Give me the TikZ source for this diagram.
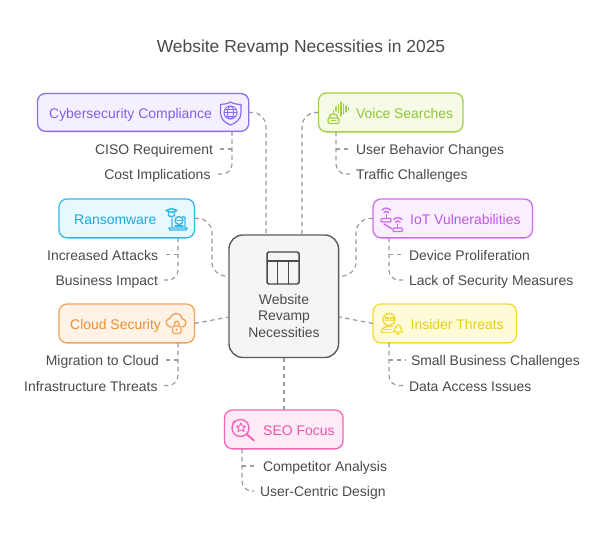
\documentclass[tikz,border=0pt]{standalone}
\usepackage{fontspec}
\setmainfont{Liberation Sans}
\definecolor{ink}{HTML}{4A4A4A}
\definecolor{linkgrey}{HTML}{9C9C9C}
\definecolor{cyS}{HTML}{8B6CF0}\definecolor{cyF}{HTML}{F4F0FF}\definecolor{cyT}{HTML}{7D60E8}
\definecolor{raS}{HTML}{35B8EA}\definecolor{raF}{HTML}{E8F8FF}\definecolor{raT}{HTML}{1FA8E0}
\definecolor{voS}{HTML}{A3CF45}\definecolor{voF}{HTML}{F6FBE8}\definecolor{voT}{HTML}{90C435}
\definecolor{ioS}{HTML}{CE6CF0}\definecolor{ioF}{HTML}{FAEFFF}\definecolor{ioT}{HTML}{C055E8}
\definecolor{clS}{HTML}{F2A458}\definecolor{clF}{HTML}{FFF3E7}\definecolor{clT}{HTML}{EC8E30}
\definecolor{inS}{HTML}{F0DC38}\definecolor{inF}{HTML}{FFFBD9}\definecolor{inT}{HTML}{E6CE12}
\definecolor{seS}{HTML}{F266BC}\definecolor{seF}{HTML}{FFEBF7}\definecolor{seT}{HTML}{EE52AE}
\tikzset{
  card/.style n args={4}{draw=#1,fill=#2,rounded corners=8,line width=1.3,anchor=north west,
    minimum width=#3,minimum height=#4,inner sep=0,outer sep=0},
  cardtext/.style={text=#1,font=\fontsize{14}{16}\selectfont,inner sep=0,text height=15,text depth=3},
  item/.style={text=ink,font=\fontsize{14}{16}\selectfont,inner sep=0,text height=15,text depth=3,outer sep=0},
  link/.style={draw=linkgrey,line width=1.2,dash pattern=on 4.5 off 3.5},
  sublink/.style={link,rounded corners=10,shorten >=6},
  glyph/.style={draw=#1,line width=1.2,line cap=round,line join=round},
}
\begin{document}
\begin{tikzpicture}[x=1bp,y=-1bp]
\useasboundingbox (0,0) rectangle (602,534);
\fill[white] (0,0) rectangle (602,534);

\node[text=ink,font=\fontsize{17.5}{20}\selectfont,inner sep=0] (title) at (301,48) {Website Revamp Necessities in 2025};

% hub
\node[draw=ink!90,fill=black!4,line width=1.4,rounded corners=14,anchor=north west,
  minimum width=110,minimum height=123,inner sep=0,outer sep=0] (hub) at (229,235) {};
\node[text=ink,font=\fontsize{14}{17}\selectfont,align=center,inner sep=0] (hubtext) at (284,316) {Website\\Revamp\\Necessities};

% topic cards
\node[card={cyS}{cyF}{212}{38}] (cyber) at (37.5,93.5) {};
\node[card={raS}{raF}{136}{39}] (ransom) at (59,199) {};
\node[card={clS}{clF}{136}{39}] (cloud) at (59,304) {};
\node[card={voS}{voF}{145}{39}] (voice) at (318.5,93) {};
\node[card={ioS}{ioF}{160}{39}] (iot) at (373,199) {};
\node[card={inS}{inF}{144}{39}] (insider) at (373,304) {};
\node[card={seS}{seF}{119}{39}] (seo) at (224.5,410) {};

\node[cardtext=cyT,anchor=west] (cyberT) at (49,112.5) {Cybersecurity Compliance};
\node[cardtext=raT,anchor=west] (ransomT) at (74,218.5) {Ransomware};
\node[cardtext=clT,anchor=west] (cloudT) at (70,323.5) {Cloud Security};
\node[cardtext=voT,anchor=west] (voiceT) at (356,112.5) {Voice Searches};
\node[cardtext=ioT,anchor=west] (iotT) at (410,218.5) {IoT Vulnerabilities};
\node[cardtext=inT,anchor=west] (insiderT) at (410.5,323.5) {Insider Threats};
\node[cardtext=seT,anchor=west] (seoT) at (263,429.5) {SEO Focus};

% list items
\node[item,anchor=east] (ciso) at (213,149) {CISO Requirement};
\node[item,anchor=east] (cost) at (210.5,174) {Cost Implications};
\node[item,anchor=east] (attacks) at (158,254.5) {Increased Attacks};
\node[item,anchor=east] (impact) at (158,280) {Business Impact};
\node[item,anchor=east] (migrate) at (159,360) {Migration to Cloud};
\node[item,anchor=east] (infra) at (157.5,385.5) {Infrastructure Threats};
\node[item,anchor=west] (behavior) at (356,149) {User Behavior Changes};
\node[item,anchor=west] (traffic) at (356,174) {Traffic Challenges};
\node[item,anchor=west] (devices) at (409,254.5) {Device Proliferation};
\node[item,anchor=west] (lack) at (409,280) {Lack of Security Measures};
\node[item,anchor=west] (small) at (411,360) {Small Business Challenges};
\node[item,anchor=west] (access) at (409,385.5) {Data Access Issues};
\node[item,anchor=west] (rival) at (263,466) {Competitor Analysis};
\node[item,anchor=west] (design) at (260,491) {User-Centric Design};

% attachment points on the edges of the hub and cards
\coordinate (hubA) at (266,235);
\coordinate (hubB) at (302,235);
\coordinate (hubC) at (229,276);
\coordinate (hubD) at (339,276);
\coordinate (hubE) at (229,317);
\coordinate (hubF) at (339,317);
\coordinate (hubG) at (284,358);
\coordinate (cornerC) at (212,218.5);
\coordinate (cornerD) at (356,218.5);
\coordinate (tCyber) at (232,131.5);
\coordinate (tRansom) at (178,238);
\coordinate (tCloud) at (178,343);
\coordinate (tVoice) at (336,132);
\coordinate (tIot) at (389,238);
\coordinate (tInsider) at (389,343);
\coordinate (tSeo) at (242,449);

% hub connectors
\draw[link,rounded corners=14] (cyber.east) -| (hubA);
\draw[link,rounded corners=14] (voice.west) -| (hubB);
\draw[link,rounded corners=14] (ransom.east) -- (cornerC) -- (cornerC |- hubC) -- (hubC);
\draw[link,rounded corners=14] (iot.west) -- (cornerD) -- (cornerD |- hubD) -- (hubD);
\draw[link] (cloud.east) -- (hubE);
\draw[link] (insider.west) -- (hubF);
\draw[link] (hubG) -- (hubG |- seo.north);

% branches below each card
\draw[sublink] (tCyber) |- (cost.east);
\draw[sublink] (tCyber |- ciso.east) -- (ciso.east);
\draw[sublink] (tRansom) |- (impact.east);
\draw[sublink] (tRansom |- attacks.east) -- (attacks.east);
\draw[sublink] (tCloud) |- (infra.east);
\draw[sublink] (tCloud |- migrate.east) -- (migrate.east);
\draw[sublink] (tVoice) |- (traffic.west);
\draw[sublink] (tVoice |- behavior.west) -- (behavior.west);
\draw[sublink] (tIot) |- (lack.west);
\draw[sublink] (tIot |- devices.west) -- (devices.west);
\draw[sublink] (tInsider) |- (access.west);
\draw[sublink] (tInsider |- small.west) -- (small.west);
\draw[sublink] (tSeo) |- (design.west);
\draw[sublink] (tSeo |- rival.west) -- (rival.west);

% hub table icon
\draw[glyph=ink,line width=1.5,rounded corners=1.5] (267,252) rectangle (299,284);
\draw[glyph=ink,line width=1.5] (267,261) -- (299,261) (277.5,261) -- (277.5,284) (288.5,261) -- (288.5,284);

% shield with globe
\begin{scope}[glyph=cyS]
  \draw (220.5,104.5) .. controls (224,104.5) and (228,103.5) .. (230.5,102) .. controls (233,103.5) and (237,104.5) .. (241,104.5)
    -- (241,113) .. controls (241,119) and (236,123) .. (230.5,125) .. controls (225,123) and (220.5,119) .. (220.5,113) -- cycle;
  \draw[line width=.9] (230.5,112.5) circle [radius=6.5];
  \draw[line width=.9] (230.5,112.5) ellipse [x radius=3,y radius=6.5];
  \draw[line width=.9] (224,112.5) -- (237,112.5) (225,109) -- (236,109) (225,116) -- (236,116);
\end{scope}

% hat and laptop
\begin{scope}[glyph=raS,line width=1.4]
  \draw (166,210.5) -- (171.5,208.5) -- (177,210.5) -- (171.5,212.5) -- cycle;
  \draw (168.5,212) -- (168.5,215.5) .. controls (170,217.5) and (173,217.5) .. (174.5,215.5) -- (174.5,212);
  \draw (172,219) -- (172,227.5) (185,217.5) -- (185,227.5) (183,216.5) -- (185,217.5);
  \draw (169,228) -- (187,228) -- (186,230) -- (170,230) -- cycle;
  \draw (179,220.5) circle [radius=4];
  \draw (177,220.5) -- (181,220.5);
  \draw (175,226) -- (183,226);
\end{scope}

% robot and sound wave
\begin{scope}[glyph=voS,line width=1.4]
  \draw[rounded corners=1.5] (328,118) rectangle (339,123.5);
  \draw (329,118) .. controls (329,112.5) and (338,112.5) .. (338,118);
  \draw (331,120.5) -- (336,120.5);
  \draw (333.5,113.5) -- (333.5,110.5);
  \draw (336,107) -- (336,111) (338.5,105) -- (338.5,113) (341,102) -- (341,116) (343.5,104) -- (343.5,114) (346,106) -- (346,112) (348.5,107.5) -- (348.5,110.5);
\end{scope}

% two wireless routers
\begin{scope}[glyph=ioS,line width=1.4]
  \draw (382,210) .. controls (384.5,207.5) and (388,207.5) .. (390.5,210);
  \draw (384,212.5) .. controls (385.5,211) and (387,211) .. (388.5,212.5);
  \draw (386.2,214.5) -- (386.2,218.5);
  \draw[rounded corners=1] (381,218.5) rectangle (391,222);
  \draw (384,224) -- (391.5,228.5);
  \draw (393.5,219.5) .. controls (396,217) and (399.5,217) .. (402,219.5);
  \draw (395.5,222) .. controls (397,220.5) and (398.5,220.5) .. (400,222);
  \draw (397.7,224) -- (397.7,228);
  \draw[rounded corners=1] (393,228) rectangle (402.5,231.5);
\end{scope}

% cloud and padlock
\begin{scope}[glyph=clS,line width=1.4]
  \draw (171,327) .. controls (167.5,326.5) and (165.5,323.5) .. (166.5,321) .. controls (167.5,319) and (169,318.5) .. (170,318.5)
    .. controls (171,315) and (174,313.5) .. (176.5,313.5) .. controls (179.5,313.5) and (182,315.5) .. (182,318.5)
    .. controls (184.5,319) and (186,321) .. (186,323) .. controls (186,325) and (184.5,326.5) .. (182.5,327);
  \draw[rounded corners=1.5] (172.5,326) rectangle (181,333.5);
  \draw (174.5,326) -- (174.5,323.5) .. controls (174.5,320.5) and (179,320.5) .. (179,323.5) -- (179,326);
  \fill[clS] (176.7,329.7) circle [radius=1.2];
\end{scope}

% figure with glasses and bell
\begin{scope}[glyph=inS,line width=1.4]
  \draw (389,319.5) circle [radius=6];
  \draw[line width=1] (383,317) -- (395,317);
  \draw[line width=.9] (385,318.8) rectangle (388,320.8) (390,318.8) rectangle (393,320.8);
  \draw (381.5,332.5) .. controls (381.5,328) and (385,326.5) .. (389,326.5) -- (392.5,326.5);
  \draw (381.5,332.5) -- (391,332.5) (384,329.7) -- (391,329.7);
  \draw (393.5,332) .. controls (395.5,330.5) and (394.5,325) .. (398,325) .. controls (401.5,325) and (400.5,330.5) .. (402.5,332) -- cycle;
  \draw (397,334) -- (399,334);
\end{scope}

% magnifier with star
\begin{scope}[glyph=seS,line width=1.4]
  \draw (240.5,428) circle [radius=8.5];
  \draw[line width=2] (247,434.5) -- (254,440.5);
  \draw[line width=1.1] (241,423) -- (242.5,426) -- (245.5,426.3) -- (243.2,428.4) -- (244,431.5) -- (241,430) -- (238,431.5) -- (238.8,428.4) -- (236.5,426.3) -- (239.5,426) -- cycle;
  \draw (233,423) -- (234.5,421) (248,433) -- (246,435);
\end{scope}
\end{tikzpicture}
\end{document}
